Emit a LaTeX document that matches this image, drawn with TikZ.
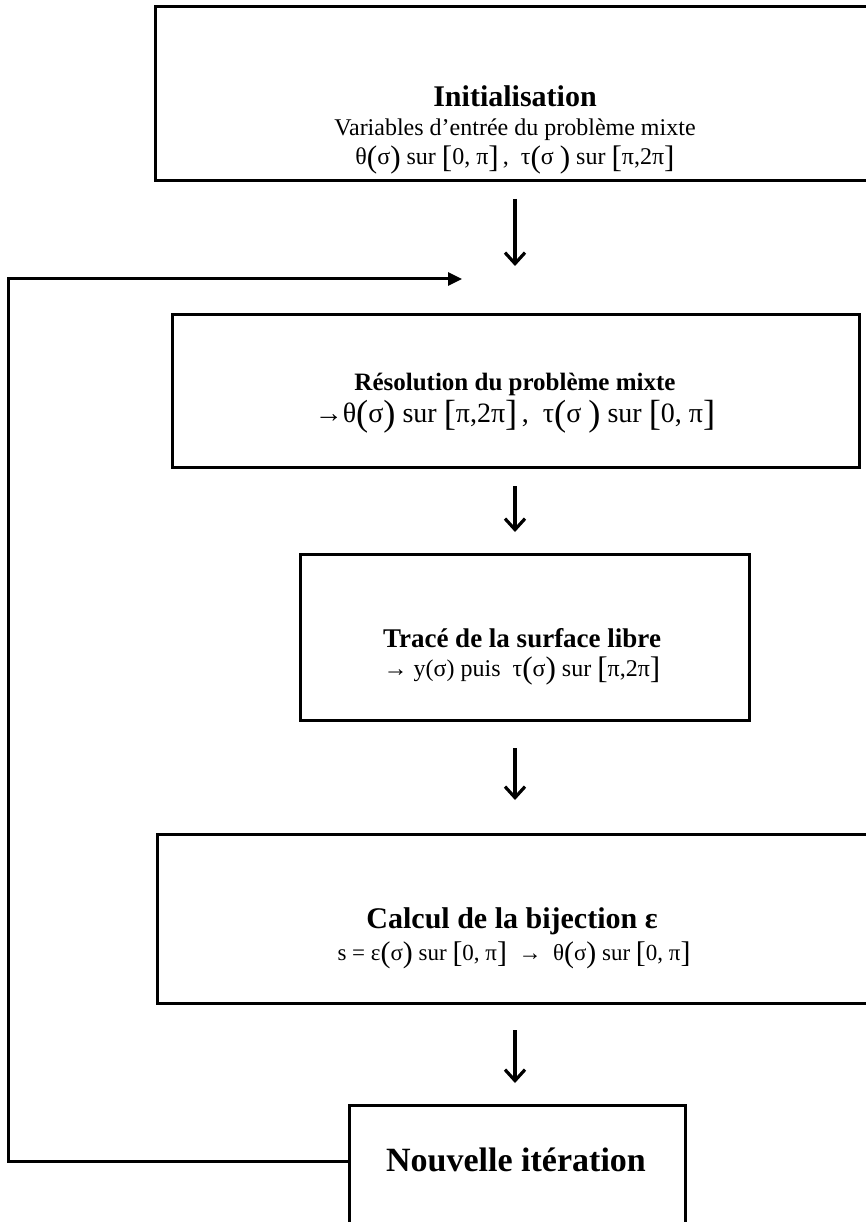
\documentclass[tikz,border=0pt]{standalone}
\usepackage{fontspec}
\setmainfont{Liberation Serif}
\usetikzlibrary{arrows.meta}
\makeatletter
\newcommand{\BS}[1]{\raisebox{-0.115em}{\fontsize{\the\dimexpr 13\dimexpr\f@size pt\relax/10\relax}{0pt}\selectfont #1}}
\makeatother
\newcommand{\Lp}{\BS{(}}
\newcommand{\Rp}{\BS{)}}
\newcommand{\Lb}{\BS{[}}
\newcommand{\Rb}{\BS{]}}
\begin{document}
\begin{tikzpicture}[x=1pt,y=-1pt,
  boxnode/.style={draw, line width=3pt, inner sep=0pt, outer sep=0pt},
  ttl/.style={anchor=base, inner sep=0pt, font=\fontsize{#1}{#1}\selectfont\bfseries},
  txt/.style={anchor=base, inner sep=0pt, font=\fontsize{#1}{#1}\selectfont},
  downarr/.style={line width=3.2pt, -{Straight Barb[length=11pt,width=20pt,line width=3.2pt]}},
  looparr/.style={line width=3pt, -{Triangle[length=14pt,width=13pt]}}
]
\useasboundingbox (0,0) rectangle (866,1222);
\clip (0,0) rectangle (866,1222);

% boxes
\node[boxnode, minimum width=720pt, minimum height=174pt] (b1) at (515,94) {};
\node[boxnode, minimum width=687pt, minimum height=153pt] (b2) at (515.5,390.5) {};
\node[boxnode, minimum width=449pt, minimum height=166pt] (b3) at (524.5,637) {};
\node[boxnode, minimum width=716pt, minimum height=169pt] (b4) at (515,918.5) {};
\node[boxnode, minimum width=336pt, minimum height=135pt] (b5) at (517,1172.5) {};

% texts
\node[ttl=30] (t1a) at (515,107) {Initialisation};
\node[txt=24] (t1b) at (515,136) {Variables d’entrée du problème mixte};
\node[txt=24] (t1c) at (515,165) {θ\Lp σ\Rp{} sur \Lb 0, π\Rb\,,\ \ τ\Lp σ \Rp{} sur \Lb π,2π\Rb};

\node[ttl=25] (t2a) at (515,390) {Résolution du problème mixte};
\node[txt=28] (t2b) at (515,422) {→θ\Lp σ\Rp{} sur \Lb π,2π\Rb\,,\ \ τ\Lp σ \Rp{} sur \Lb 0, π\Rb};

\node[ttl=27] (t3a) at (522,647) {Tracé de la surface libre};
\node[txt=24] (t3b) at (522,676) {→ y(σ) puis\ \ τ\Lp σ\Rp{} sur \Lb π,2π\Rb};

\node[ttl=30] (t4a) at (512,928) {Calcul de la bijection ε};
\node[txt=23] (t4b) at (514,960) {s = ε\Lp σ\Rp{} sur \Lb 0, π\Rb\ \ →\ \ θ\Lp σ\Rp{} sur \Lb 0, π\Rb};

\node[ttl=34] (t5) at (516,1171) {Nouvelle itération};

% down arrows
\coordinate (a1s) at (515,199); \coordinate (a1e) at (515,266);
\coordinate (a2s) at (515,486); \coordinate (a2e) at (515,532);
\coordinate (a3s) at (515,748); \coordinate (a3e) at (515,800);
\coordinate (a4s) at (515,1030); \coordinate (a4e) at (515,1083);
\draw[downarr] (a1s) -- (a1e);
\draw[downarr] (a2s) -- (a2e);
\draw[downarr] (a3s) -- (a3e);
\draw[downarr] (a4s) -- (a4e);

% loop back
\coordinate (lb) at (8,1161);
\coordinate (lt) at (8,279);
\coordinate (ltip) at (462,279);
\draw[looparr] (b5.west |- lb) -- (lb) -- (lt) -- (ltip);
\end{tikzpicture}
\end{document}
